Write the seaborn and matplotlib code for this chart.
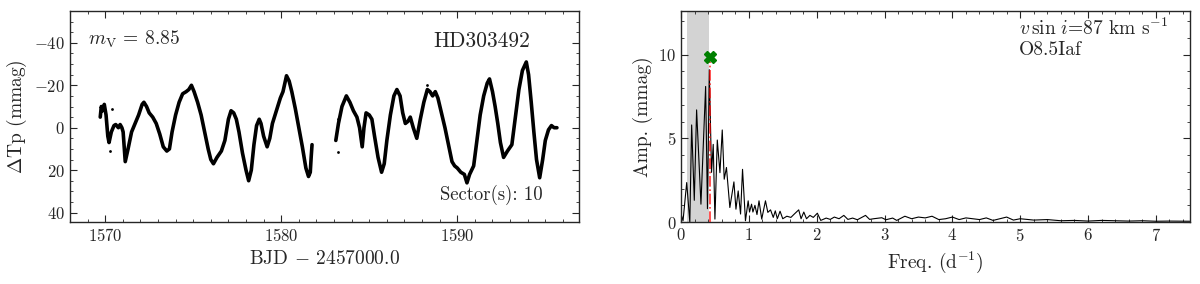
import numpy as np
import pandas as pd
import matplotlib
matplotlib.use("Agg")
import matplotlib.pyplot as plt
from matplotlib.ticker import MultipleLocator
import seaborn as sns

# light curve (BJD - 2457000, delta Tp in mmag)
seg1_time = [1569.72, 1569.78, 1569.85, 1569.95, 1570.05, 1570.15, 1570.22, 1570.35, 1570.5, 1570.6,
             1570.75, 1570.85, 1570.95, 1571.02, 1571.14, 1571.3, 1571.5, 1571.7, 1571.9, 1572.1,
             1572.2, 1572.35, 1572.5, 1572.7, 1572.9, 1573.1, 1573.3, 1573.5, 1573.65, 1573.8,
             1574.0, 1574.2, 1574.4, 1574.6, 1574.75, 1574.9, 1575.05, 1575.25, 1575.45, 1575.65,
             1575.85, 1576.0, 1576.15, 1576.35, 1576.6, 1576.8, 1577.0, 1577.15, 1577.3, 1577.45,
             1577.6, 1577.8, 1578.0, 1578.15, 1578.3, 1578.45, 1578.6, 1578.75, 1578.85, 1579.0,
             1579.2, 1579.35, 1579.5, 1579.65, 1579.8, 1579.95, 1580.1, 1580.3, 1580.45, 1580.6,
             1580.8, 1581.0, 1581.2, 1581.4, 1581.55, 1581.65, 1581.7, 1581.75]
seg1_dmag = [-5, -10, -8, -11, -6, 4, 7, 2, -1, -1.5,
             0, -1.5, 0, 2, 16, 10, 2, -2, -6, -11,
             -12, -10, -7, -5, -2, 3, 9, 11, 10, 2,
             -6, -12, -16, -17, -18, -20, -17, -12, -6, 2,
             10, 15, 17, 14, 11, 6, -4, -8, -7, -4,
             2, 12, 20, 25, 20, 8, -1, -4, -2, 4,
             9, 5, -2, -6, -10, -14, -17, -24.5, -22, -17,
             -9, 0, 9, 19, 23, 21, 14, 8]

seg2_time = [1583.1, 1583.25, 1583.45, 1583.7, 1583.9, 1584.1, 1584.3, 1584.45, 1584.6, 1584.7,
             1584.82, 1585.0, 1585.15, 1585.3, 1585.5, 1585.7, 1585.85, 1586.0, 1586.2, 1586.4,
             1586.57, 1586.75, 1586.9, 1587.05, 1587.2, 1587.33, 1587.5, 1587.7, 1587.9, 1588.1,
             1588.3, 1588.45, 1588.6, 1588.75, 1588.9, 1589.1, 1589.3, 1589.5, 1589.7, 1589.85,
             1590.0, 1590.2, 1590.4, 1590.55, 1590.7, 1590.93, 1591.1, 1591.3, 1591.5, 1591.7,
             1591.83, 1592.0, 1592.15, 1592.3, 1592.45, 1592.63, 1592.85, 1593.1, 1593.3, 1593.5,
             1593.7, 1593.92, 1594.05, 1594.2, 1594.35, 1594.5, 1594.68, 1594.85, 1595.0, 1595.18,
             1595.35, 1595.5, 1595.66]
seg2_dmag = [6, -2, -10, -15, -12, -8, -5, 0, 9, 0,
             -7, -6, -4, 4, 14, 21, 17, 6, -6, -15,
             -18, -15, -7, -2, -3, -5, 0, 5, -4, -12,
             -18, -17, -15, -17, -14, -7, 0, 8, 16, 18,
             19, 21, 22, 26, 22, 18, 7, -6, -15, -21,
             -23, -17, -10, -2, 7, 14, 11, 8, -5, -18,
             -27, -31, -25, -12, 2, 15, 23.6, 15, 6, 1,
             -1, 0, 0]

# stray points
out_time = [1570.25, 1570.41, 1583.2, 1583.2, 1588.27]
out_dmag = [11, -9, 11.6, -4, -20]

# amplitude spectrum (freq in 1/d, amplitude in mmag)
freq = [0.0, 0.03, 0.084, 0.13, 0.157, 0.196, 0.23, 0.294, 0.363, 0.39,
        0.417, 0.45, 0.475, 0.5, 0.535, 0.574, 0.608, 0.637, 0.67, 0.72,
        0.78, 0.81, 0.843, 0.878, 0.907, 0.95, 0.99, 1.01, 1.04, 1.06,
        1.09, 1.12, 1.15, 1.19, 1.245, 1.28, 1.32, 1.36, 1.39, 1.42,
        1.46, 1.5, 1.56, 1.62, 1.67, 1.735, 1.77, 1.81, 1.85, 1.9,
        1.95, 2.01, 2.06, 2.14, 2.2, 2.26, 2.33, 2.4, 2.46, 2.53,
        2.6, 2.72, 2.78, 2.84, 2.96, 3.02, 3.12, 3.18, 3.3, 3.4,
        3.5, 3.6, 3.7, 3.8, 3.9, 4.0, 4.1, 4.2, 4.3, 4.4,
        4.5, 4.6, 4.7, 4.8, 4.9, 5.0, 5.2, 5.4, 5.6, 5.8,
        6.0, 6.2, 6.4, 6.6, 6.8, 7.0, 7.2, 7.5]
amp = [0.48, 0.08, 2.36, 0.0, 5.8, 1.3, 6.7, 1.07, 8.1, 0.8,
       9.1, 2.97, 4.64, 0.18, 4.9, 2.95, 5.5, 2.56, 3.26, 0.87,
       2.4, 0.77, 1.86, 0.48, 3.15, 0.08, 1.27, 0.6, 1.07, 0.6,
       1.0, 0.45, 1.27, 0.18, 1.27, 0.58, 0.73, 0.28, 0.67, 0.2,
       0.65, 0.2, 0.35, 0.28, 0.48, 0.73, 0.2, 0.6, 0.2, 0.4,
       0.28, 0.53, 0.1, 0.24, 0.16, 0.3, 0.2, 0.4, 0.16, 0.24,
       0.14, 0.4, 0.16, 0.2, 0.26, 0.14, 0.24, 0.1, 0.35, 0.2,
       0.3, 0.25, 0.35, 0.15, 0.2, 0.3, 0.15, 0.25, 0.2, 0.15,
       0.25, 0.1, 0.2, 0.3, 0.12, 0.2, 0.12, 0.15, 0.08, 0.1,
       0.06, 0.1, 0.08, 0.06, 0.08, 0.05, 0.06, 0.05]

peak_freq = 0.425
peak_mark = 9.85
band = (0.09, 0.42)

sns.set_style("ticks")
plt.rcParams["font.family"] = "serif"
plt.rcParams["font.serif"] = ["cmr10", "DejaVu Serif"]
plt.rcParams["mathtext.fontset"] = "cm"
plt.rcParams["axes.formatter.use_mathtext"] = True
plt.rcParams["axes.unicode_minus"] = True

fig = plt.figure(figsize=(12, 2.84), dpi=100)
ax1 = fig.add_axes([0.0583, 0.218, 0.424, 0.743])
ax2 = fig.add_axes([0.5675, 0.218, 0.424, 0.743])

lc1 = pd.DataFrame({"t": seg1_time, "d": seg1_dmag})
lc2 = pd.DataFrame({"t": seg2_time, "d": seg2_dmag})
sns.lineplot(data=lc1, x="t", y="d", sort=False, estimator=None, color="k", lw=2.6, ax=ax1)
sns.lineplot(data=lc2, x="t", y="d", sort=False, estimator=None, color="k", lw=2.6, ax=ax1)
sns.scatterplot(x=out_time, y=out_dmag, color="k", s=4, linewidth=0, ax=ax1)

ax1.set_xlim(1568, 1596.9)
ax1.set_ylim(44.5, -55)
ax1.xaxis.set_major_locator(MultipleLocator(10))
ax1.xaxis.set_minor_locator(MultipleLocator(1))
ax1.yaxis.set_major_locator(MultipleLocator(20))
ax1.yaxis.set_minor_locator(MultipleLocator(5))
ax1.set_xlabel(r"BJD $-$ 2457000.0", fontsize=14)
ax1.set_ylabel(r"$\Delta$Tp (mmag)", fontsize=14)
ax1.text(0.035, 0.84, r"$m_{\rm V}$ = 8.85", transform=ax1.transAxes, fontsize=14, va="baseline")
ax1.text(0.81, 0.83, "HD303492", transform=ax1.transAxes, fontsize=15.5, ha="center", va="baseline")
ax1.text(0.929, 0.104, "Sector(s): 10", transform=ax1.transAxes, fontsize=13.5, ha="right", va="baseline")

# periodogram
ax2.axvspan(band[0], band[1], color="lightgrey", lw=0, zorder=0)
sns.lineplot(x=freq, y=amp, sort=False, estimator=None, color="k", lw=0.8, ax=ax2)
ax2.vlines(peak_freq, 0, peak_mark - 0.3, colors="red", linestyles="-.", lw=1.2, alpha=0.8, zorder=3)
ax2.plot([peak_freq], [peak_mark], marker="X", color="green", ms=9, mec="green", zorder=4)
ax2.set_xlim(0, 7.5)
ax2.set_ylim(0, 12.6)
ax2.xaxis.set_major_locator(MultipleLocator(1))
ax2.xaxis.set_minor_locator(MultipleLocator(0.2))
ax2.yaxis.set_major_locator(MultipleLocator(5))
ax2.yaxis.set_minor_locator(MultipleLocator(1))
ax2.set_xlabel(r"Freq. (d$^{-1}$)", fontsize=14)
ax2.set_ylabel("Amp. (mmag)", fontsize=14)
ax2.text(0.665, 0.886, r"$v\,\sin\,i$=87 km s$^{-1}$", transform=ax2.transAxes, fontsize=14, va="baseline")
ax2.text(0.665, 0.79, "O8.5Iaf", transform=ax2.transAxes, fontsize=14, va="baseline")

for ax in (ax1, ax2):
    ax.tick_params(which="both", direction="in", top=True, right=True, labelsize=12)
    ax.tick_params(which="major", length=5, width=0.8)
    ax.tick_params(which="minor", length=2.5, width=0.6)
    for s in ax.spines.values():
        s.set_linewidth(1.0)

fig.savefig("out.png", dpi=100)
